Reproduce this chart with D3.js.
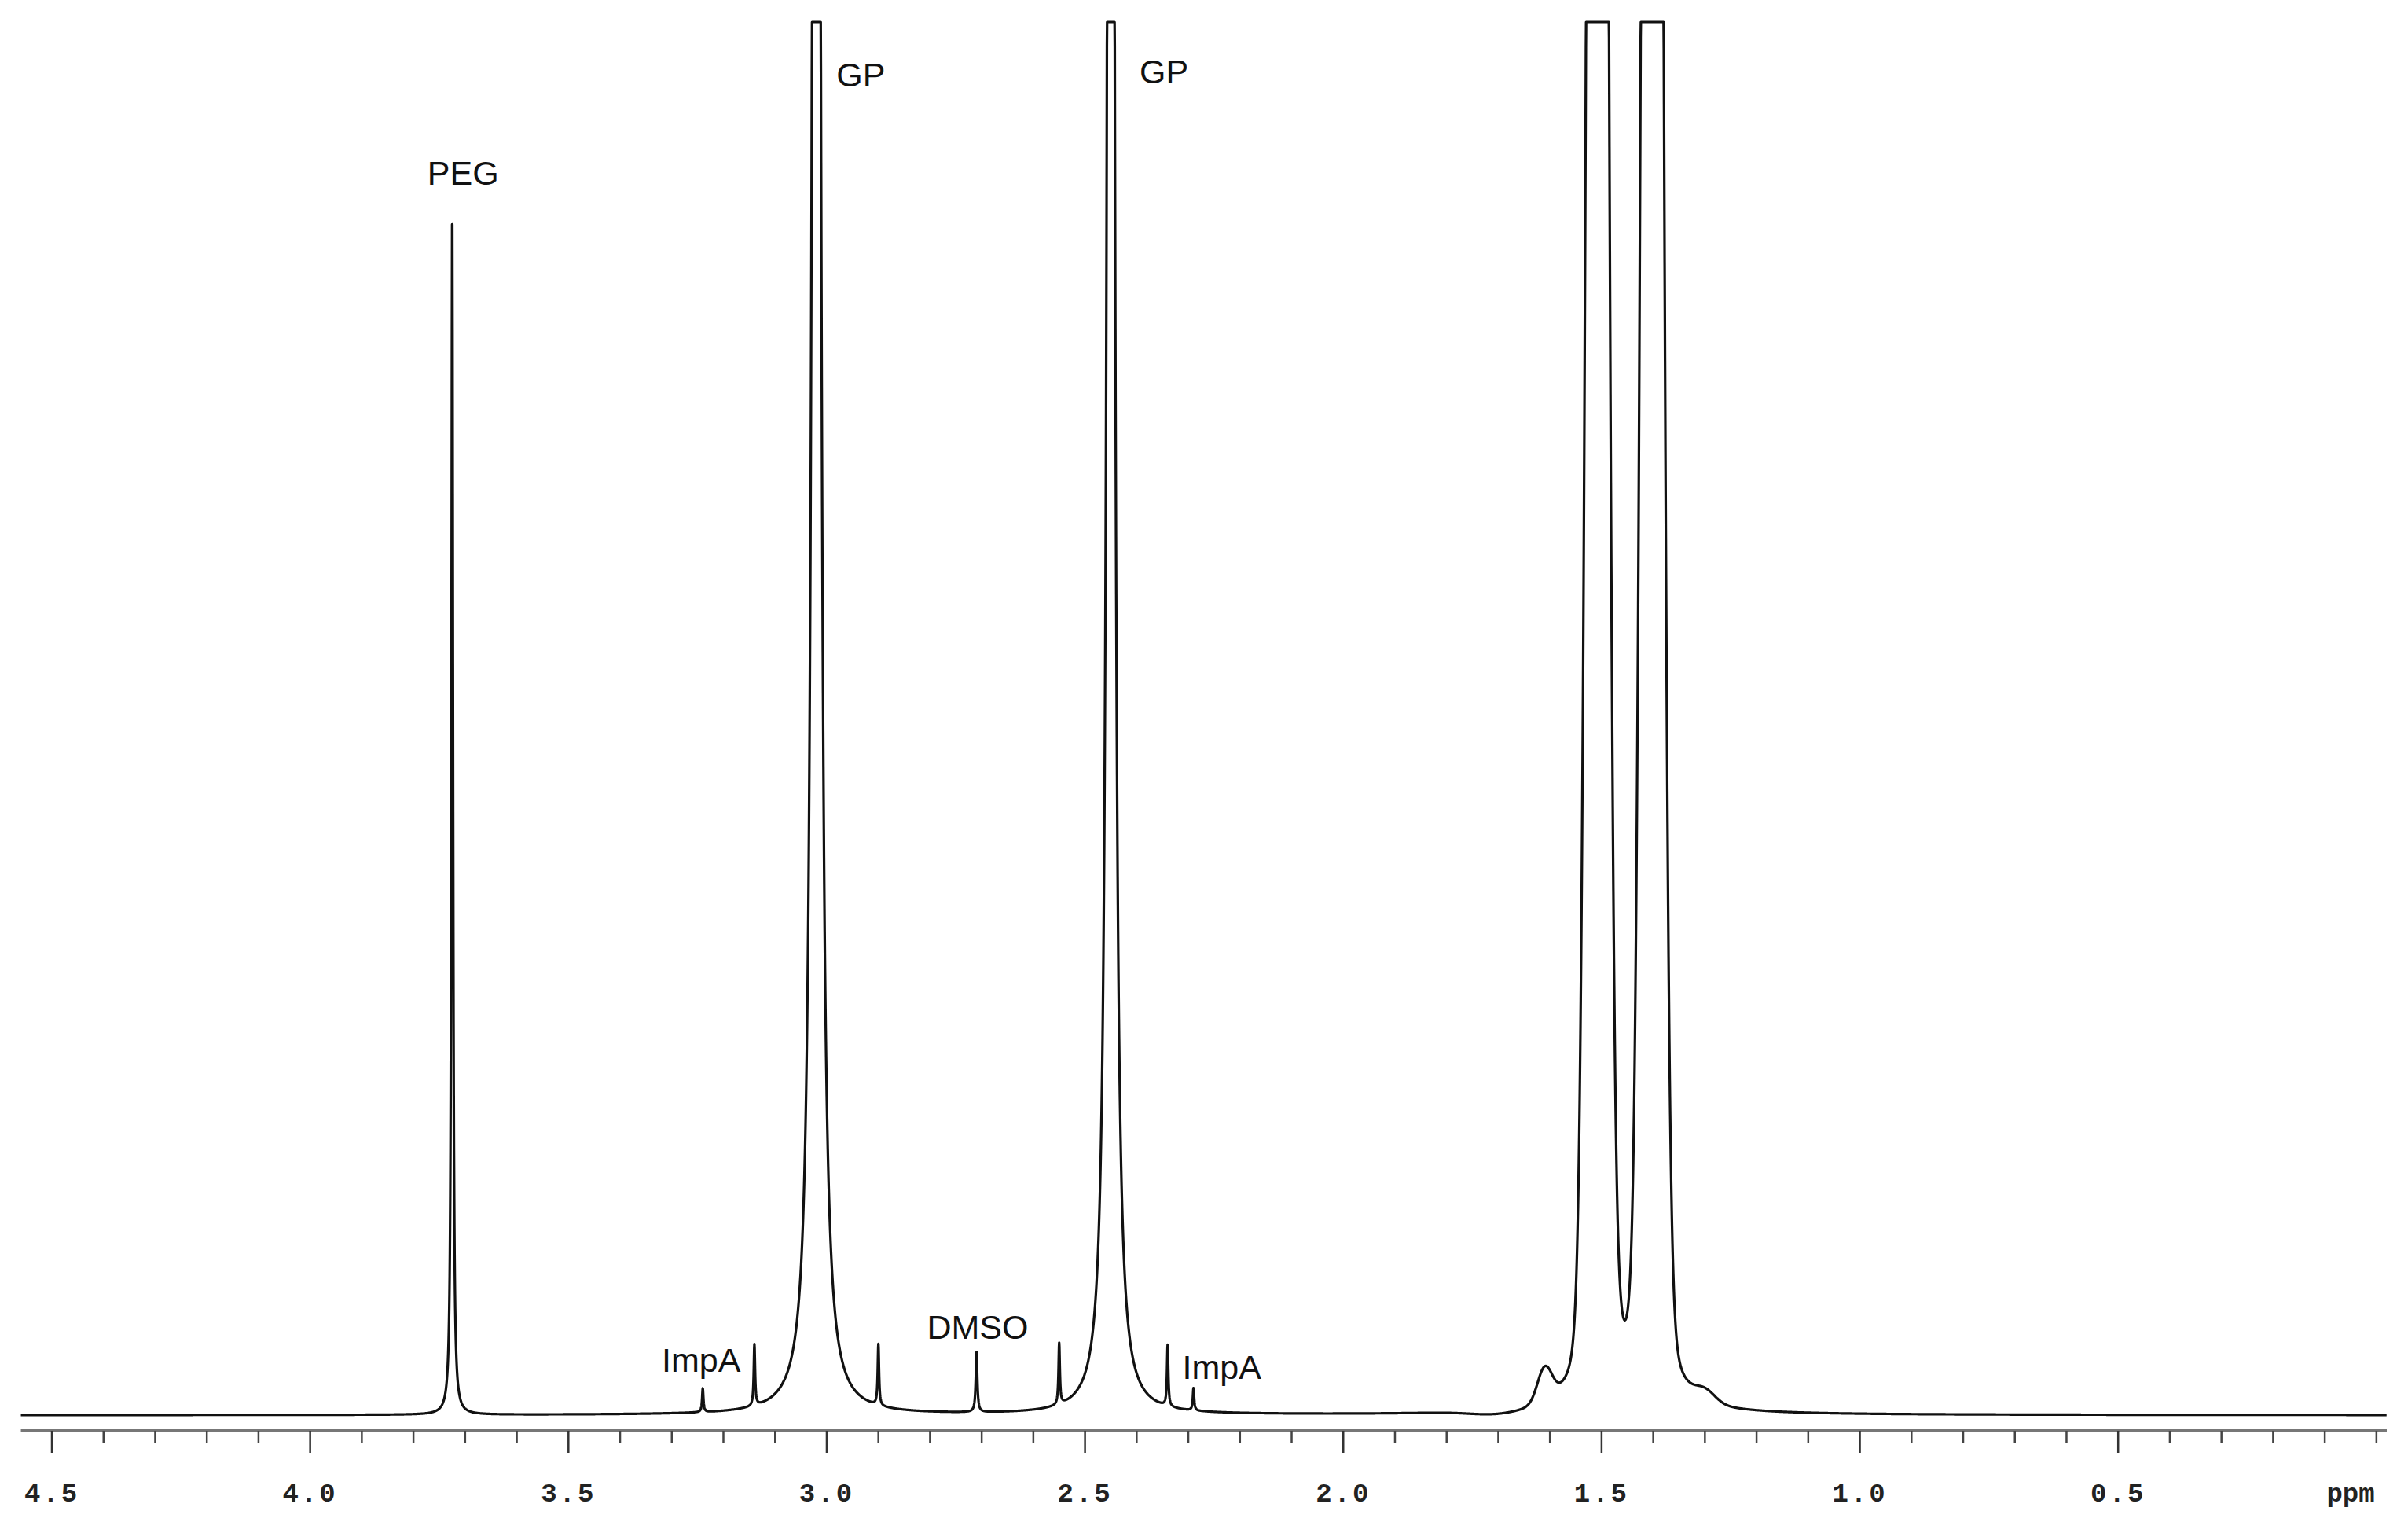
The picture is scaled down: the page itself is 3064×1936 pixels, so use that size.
<!DOCTYPE html>
<html><head><meta charset="utf-8">
<script src="https://cdn.jsdelivr.net/npm/d3@7"></script>
<style>body{margin:0;background:#fff}</style></head>
<body><svg id="c" width="3064" height="1936"></svg>
<script>
// Peak table (ppm, height in % of clip level, width in ppm, shape L=Lorentz G=Gauss)
const peakPpm    = [3.725, 3.240, 3.140, 3.020, 2.900, 2.710, 2.550, 2.450, 2.340, 2.290, 1.508, 1.508, 1.402, 1.402, 1.610, 1.300, 1.700];
const peakHeight = [86.5,  1.7,   4.4,   420,   4.4,   4.3,   4.4,   420,   4.4,   1.6,   300,   25,    300,   25,    2.4,   0.8,   -0.3];
const peakWidth  = [0.0018,0.0015,0.0015,0.0048,0.0015,0.0018,0.0015,0.0042,0.0015,0.0015,0.0142,0.02, 0.0142,0.02,  0.014, 0.02,  0.05];
const peakShape  = ["L","L","L","L","L","L","L","L","L","L","G","L","G","L","G","G","G"];
const tickMajor = [4.5,4.0,3.5,3.0,2.5,2.0,1.5,1.0,0.5];
const tickLabels = ["4.5","4.0","3.5","3.0","2.5","2.0","1.5","1.0","0.5"];
const labelText = ["PEG","GP","GP","ImpA","DMSO","ImpA"];
const labelPpm  = [3.704, 2.934, 2.347, 3.243, 2.708, 2.235];
const labelVal  = [88.3,  95.4,  95.6,  3.1,   5.5,   2.6];

const svg = d3.select("#c");
const x = d3.scaleLinear().domain([4.5, 0]).range([66, 66 + 9*328.65]);
const y = d3.scaleLinear().domain([0, 100]).range([1800, 28]);
const axisY = 1820;

function spec(p){
  let s = 0;
  for (let i=0;i<peakPpm.length;i++){
    const d = p-peakPpm[i], w = peakWidth[i];
    s += peakShape[i]==="L" ? peakHeight[i]*w*w/(d*d+w*w)
                            : peakHeight[i]*Math.exp(-d*d/(2*w*w));
  }
  return Math.min(s,100);
}
const xs = d3.range(4.56, -0.02, -0.0004);
const pts = xs.map(p=>[p, spec(p)]);
svg.append("path").datum(pts)
  .attr("d", d3.line().x(d=>x(d[0])).y(d=>y(d[1])))
  .attr("fill","none").attr("stroke","#111").attr("stroke-width",3.2).attr("stroke-linejoin","round");

// axis
svg.append("line").attr("x1",x(4.56)).attr("x2",x(-0.02)).attr("y1",axisY).attr("y2",axisY)
  .attr("stroke","#777").attr("stroke-width",4);
const minor = d3.range(45,-1,-1).map(v=>v/10).filter(v=>!tickMajor.some(m=>Math.abs(m-v)<1e-6));
svg.selectAll(".mi").data(minor).join("line")
  .attr("x1",d=>x(d)).attr("x2",d=>x(d)).attr("y1",axisY).attr("y2",axisY+16)
  .attr("stroke","#444").attr("stroke-width",2.5);
svg.selectAll(".ma").data(tickMajor).join("line")
  .attr("x1",d=>x(d)).attr("x2",d=>x(d)).attr("y1",axisY).attr("y2",axisY+28)
  .attr("stroke","#333").attr("stroke-width",2.5);
svg.selectAll(".tl").data(tickMajor).join("text")
  .attr("x",d=>x(d)).attr("y",1910).attr("text-anchor","middle")
  .attr("font-family","Liberation Mono").attr("font-weight","bold").attr("font-size",34)
  .attr("letter-spacing",3).attr("fill","#222")
  .text((d,i)=>tickLabels[i]);
svg.append("text").attr("x",x(0.05)).attr("y",1910).attr("text-anchor","middle")
  .attr("font-family","Liberation Mono").attr("font-weight","bold").attr("font-size",34)
  .attr("fill","#222").text("ppm");

svg.selectAll(".lab").data(labelText).join("text")
  .attr("x",(d,i)=>x(labelPpm[i])).attr("y",(d,i)=>y(labelVal[i]))
  .attr("text-anchor","middle").attr("font-family","Liberation Sans").attr("font-size",43)
  .attr("fill","#111").text(d=>d);
</script></body></html>
